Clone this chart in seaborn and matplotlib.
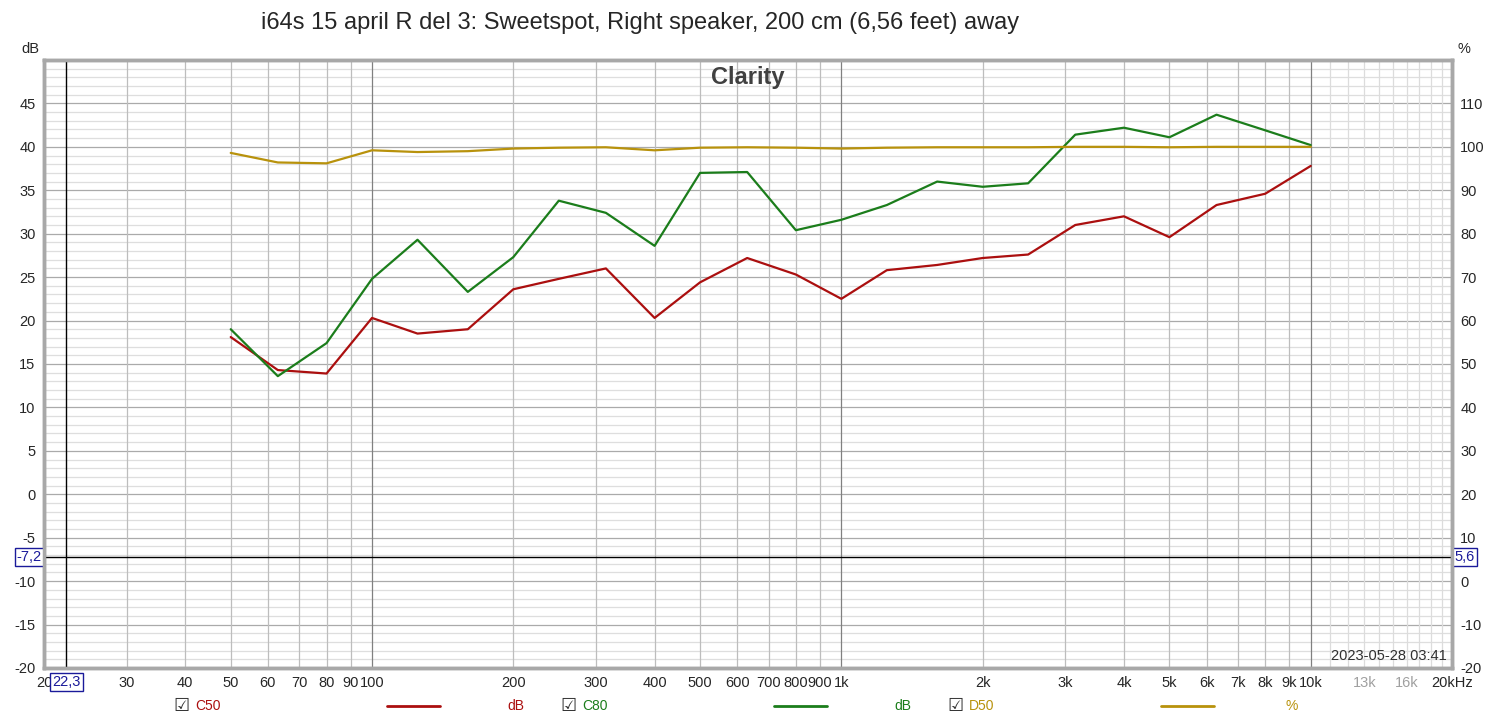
import numpy as np
import pandas as pd
import matplotlib.pyplot as plt
import seaborn as sns
from matplotlib.lines import Line2D

# 1/3 octave band centres (Hz)
freq = [50, 63, 80, 100, 125, 160, 200, 250, 315, 400, 500, 630, 800,
        1000, 1250, 1600, 2000, 2500, 3150, 4000, 5000, 6300, 8000, 10000]

# C50 (dB)
c50 = [18.1, 14.3, 13.9, 20.3, 18.5, 19.0, 23.6, 24.8, 26.0, 20.3, 24.4, 27.2,
       25.3, 22.5, 25.8, 26.4, 27.2, 27.6, 31.0, 32.0, 29.6, 33.3, 34.6, 37.8]
# C80 (dB)
c80 = [19.0, 13.6, 17.4, 24.8, 29.3, 23.3, 27.3, 33.8, 32.4, 28.6, 37.0, 37.1,
       30.4, 31.6, 33.3, 36.0, 35.4, 35.8, 41.4, 42.2, 41.1, 43.7, 41.9, 40.2]
# D50 (%)
d50 = [98.6, 96.4, 96.2, 99.2, 98.8, 99.0, 99.6, 99.8, 99.9, 99.2, 99.8, 99.9,
       99.8, 99.6, 99.8, 99.9, 99.9, 99.9, 100.0, 100.0, 99.9, 100.0, 100.0, 100.0]

df = pd.DataFrame({'freq': freq, 'C50': c50, 'C80': c80, 'D50': d50})

RED = '#ab0f0f'
GREEN = '#1b7d1b'
GOLD = '#b8920c'

# x tick labels
xt_pos = [20, 30, 40, 50, 60, 70, 80, 90, 100, 200, 300, 400, 500, 600, 700, 800, 900,
          1000, 2000, 3000, 4000, 5000, 6000, 7000, 8000, 9000, 10000, 13000, 16000, 20000]
xt_lab = ['20', '30', '40', '50', '60', '70', '80', '90', '100', '200', '300', '400', '500',
          '600', '700', '800', '900', '1k', '2k', '3k', '4k', '5k', '6k', '7k', '8k', '9k',
          '10k', '13k', '16k', '20kHz']

cursor_hz = 22.3
cursor_db = -7.2

sns.set_style('white')
plt.rcParams['font.family'] = ['Liberation Sans', 'DejaVu Sans']
plt.rcParams['axes.unicode_minus'] = False

fig = plt.figure(figsize=(15, 7.26), dpi=100)
ax = fig.add_axes([0.0293, 0.0799, 0.9387, 0.8375])
ax2 = ax.twinx()

ax.set_xscale('log')
ax.set_xlim(20, 20000)
ax.set_ylim(-20, 50)
ax2.set_ylim(-20, 120)

# grid: horizontal
for v in range(-20, 51):
    ax.axhline(v, color='#aaaaaa' if v % 5 == 0 else '#dedede', lw=0.9, zorder=0)
# grid: vertical
for dec in [10, 100, 1000]:
    for m in range(2, 10):
        f = dec * m
        if f > 20:
            ax.axvline(f, color='#bdbdbd', lw=0.9, zorder=0)
for f in [100, 1000, 10000]:
    ax.axvline(f, color='#808080', lw=0.9, zorder=0)
for f in range(11000, 20000, 1000):
    ax.axvline(f, color='#dcdcdc', lw=0.9, zorder=0)

sns.lineplot(data=df, x='freq', y='C50', ax=ax, color=RED, lw=1.6, zorder=3)
sns.lineplot(data=df, x='freq', y='C80', ax=ax, color=GREEN, lw=1.6, zorder=3)
sns.lineplot(data=df, x='freq', y='D50', ax=ax2, color=GOLD, lw=1.6, zorder=3)

# cursor
ax.axhline(cursor_db, color='black', lw=1.0, zorder=4)
ax.axvline(cursor_hz, color='black', lw=1.0, zorder=4)

ax.set_xticks(xt_pos)
ax.set_xticklabels(xt_lab)
ax.minorticks_off()
ax.set_yticks(range(-20, 50, 5))
ax2.set_yticks(range(-20, 120, 10))
ax.tick_params(axis='both', length=0, labelsize=10.5, pad=6)
ax2.tick_params(axis='y', length=0, labelsize=10.5, pad=6)
for lab in ax.get_xticklabels():
    if lab.get_text() in ('13k', '16k'):
        lab.set_color('#a0a0a0')
ax.set_xlabel('')
ax.set_ylabel('')
ax2.set_ylabel('')

for a in (ax, ax2):
    for s in a.spines.values():
        s.set_color('#a8a8a8')
        s.set_linewidth(2.5)

# axis unit labels
fig.text(0.026, 0.933, 'dB', ha='right', va='center', fontsize=10.5)
fig.text(0.972, 0.933, '%', ha='left', va='center', fontsize=10.5)

# cursor value boxes
box = dict(boxstyle='square,pad=0.15', fc='white', ec='#1a1a9a', lw=1)
ax.text(-0.0015, cursor_db, '-7,2', transform=ax.get_yaxis_transform(), ha='right',
        va='center', fontsize=10.5, color='#1a1a9a', bbox=box, zorder=6)
ax.text(1.0015, cursor_db, '5,6', transform=ax.get_yaxis_transform(), ha='left',
        va='center', fontsize=10.5, color='#1a1a9a', bbox=box, zorder=6)
ax.text(cursor_hz, -0.012, '22,3', transform=ax.get_xaxis_transform(), ha='center',
        va='top', fontsize=10.5, color='#1a1a9a', bbox=box, zorder=6)

ax.text(0.5, 0.99, 'Clarity', transform=ax.transAxes, ha='center', va='top',
        fontsize=17, fontweight='bold', color='#404040')
ax.text(0.996, 0.008, '2023-05-28 03:41', transform=ax.transAxes, ha='right',
        va='bottom', fontsize=10.5, color='#303030')

fig.text(0.427, 0.968, 'i64s 15 april R del 3: Sweetspot, Right speaker, 200 cm (6,56 feet) away',
         ha='center', va='center', fontsize=17)

# legend row
legend_items = [('C50', RED, 'dB', 0.121, 0.258, 0.344),
                ('C80', GREEN, 'dB', 0.379, 0.516, 0.602),
                ('D50', GOLD, '%', 0.637, 0.774, 0.861)]
for name, col, unit, xc, xl, xu in legend_items:
    fig.text(xc, 0.027, '\u2611', ha='center', va='center', fontsize=13,
             color='#303030', family=['DejaVu Sans'])
    fig.text(xc + 0.009, 0.027, name, ha='left', va='center', fontsize=10, color=col)
    fig.add_artist(Line2D([xl, xl + 0.035], [0.027, 0.027], color=col, lw=2,
                          transform=fig.transFigure))
    fig.text(xu, 0.027, unit, ha='center', va='center', fontsize=10, color=col)

fig.savefig('out.png', dpi=100, facecolor='white')
